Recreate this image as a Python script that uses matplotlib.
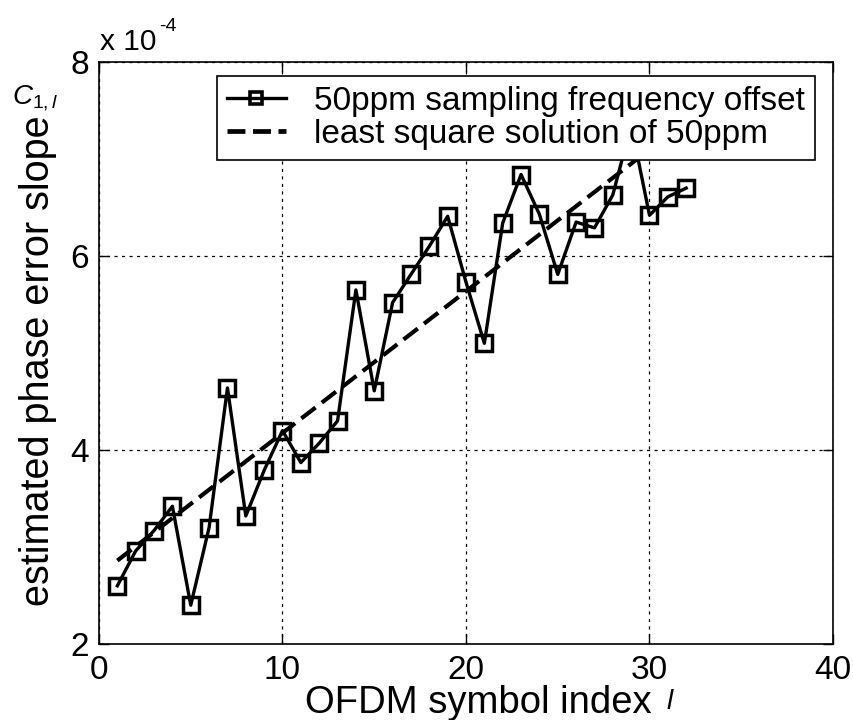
import matplotlib
matplotlib.use("Agg")
import matplotlib.pyplot as plt
import numpy as np

plt.rcParams['font.family'] = ['Liberation Sans', 'DejaVu Sans']
plt.rcParams['mathtext.fontset'] = 'custom'
plt.rcParams['mathtext.rm'] = 'Liberation Sans'
plt.rcParams['mathtext.it'] = 'Liberation Sans:italic'

# data (values in units of 1e-4)
symbol_index = [1, 2, 3, 4, 5, 6, 7, 8, 9, 10, 11, 12, 13, 14, 15, 16,
                17, 18, 19, 20, 21, 22, 23, 24, 25, 26, 27, 28, 29, 30, 31, 32]
slope_50ppm = [2.60, 2.96, 3.17, 3.42, 2.40, 3.20, 4.64, 3.32, 3.79, 4.20,
               3.87, 4.07, 4.30, 5.65, 4.61, 5.52, 5.81, 6.10, 6.41, 5.73,
               5.10, 6.34, 6.84, 6.43, 5.81, 6.35, 6.29, 6.63, 7.35, 6.42,
               6.61, 6.70]
ls_x = [1, 32]
ls_y = [2.86, 7.39]

x_ticks = [0, 10, 20, 30, 40]
y_ticks = [2, 4, 6, 8]

fig = plt.figure(figsize=(8.54, 7.2), dpi=100)
ax = fig.add_axes([99 / 854, 76 / 720, 734 / 854, 582 / 720])

ax.plot(symbol_index, slope_50ppm, '-', color='black', lw=2.4,
        marker='s', markersize=11, markerfacecolor='none',
        markeredgewidth=2.5, markeredgecolor='black', zorder=3)
ax.plot(ls_x, ls_y, color='black', lw=3.0, dashes=(4.3, 1.9), zorder=2)

ax.set_xlim(0, 40)
ax.set_ylim(2, 8)
ax.set_xticks(x_ticks)
ax.set_yticks(y_ticks)
ax.tick_params(direction='in', length=7, width=1, top=True, right=True,
               labelsize=24)
ax.tick_params(axis='x', pad=8)
ax.tick_params(axis='y', pad=7)
ax.grid(True, color='black', linestyle=(0, (2.5, 3.5)), linewidth=0.9)
for s in ax.spines.values():
    s.set_linewidth(1.2)

ax.set_xlabel('OFDM symbol index', fontsize=27.5)
ax.xaxis.set_label_coords(0.5165, -0.071)
ax.xaxis.label.set_verticalalignment('top')
fig.text(667 / 854, 1 - 709 / 720, 'l', fontsize=20, style='italic')
ax.set_ylabel('estimated phase error slope', fontsize=28.5)
ax.yaxis.set_label_coords(-0.083, 0.487)
ax.yaxis.label.set_verticalalignment('center')

fig.text(100 / 854, 1 - 50 / 720, 'x 10', fontsize=21.5)
fig.text(159 / 854, 1 - 31 / 720, '-4', fontsize=14)
fig.text(12 / 854, 1 - 104 / 720,
         r'$\mathit{C}_{\mathregular{1,}\mathit{l}}$', fontsize=20)

line_handle = plt.Line2D([], [], color='black', lw=2.4, marker='s',
                         markersize=8, markerfacecolor='none',
                         markeredgewidth=2.6)
dash_handle = plt.Line2D([], [], color='black', lw=3.4, dashes=(3.8, 1.6))
leg = ax.legend([line_handle, dash_handle],
                ['50ppm sampling frequency offset',
                 'least square solution of 50ppm'],
                loc='upper left', bbox_to_anchor=(0.161, 0.976),
                fontsize=24, frameon=True, fancybox=False,
                edgecolor='black', framealpha=1, handlelength=1.75,
                handletextpad=0.85, borderpad=0.3, labelspacing=0.05,
                borderaxespad=0)
leg.get_frame().set_linewidth(1.2)
leg.set_zorder(5)

fig.savefig('out.png', dpi=100)
